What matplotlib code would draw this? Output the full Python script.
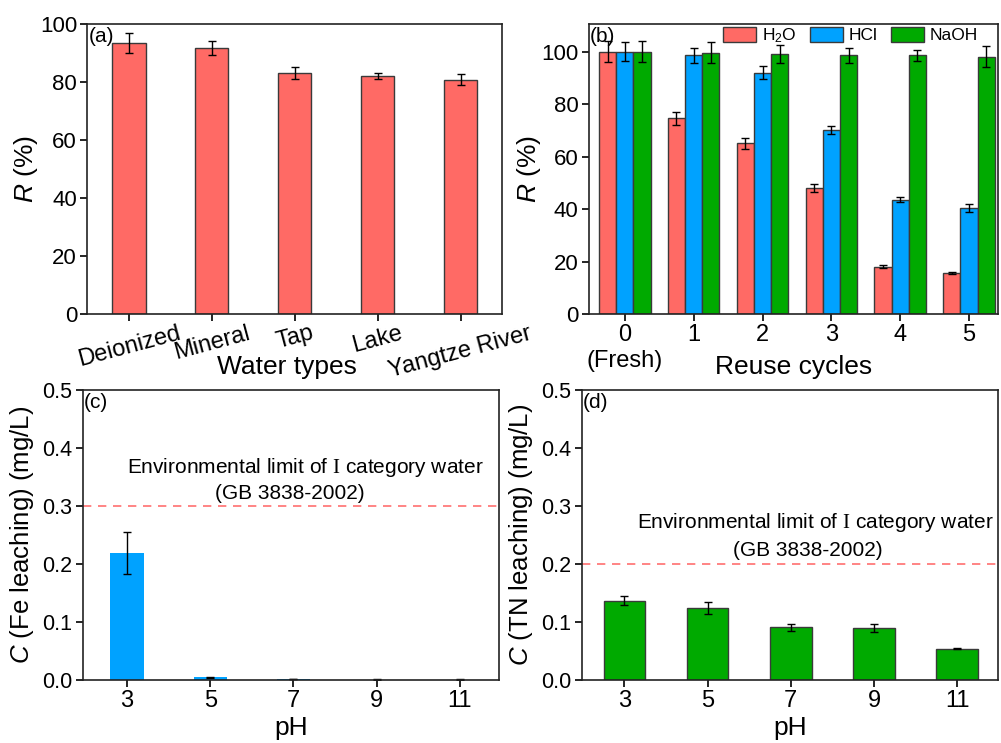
import numpy as np
import matplotlib
matplotlib.use("Agg")
import matplotlib.pyplot as plt

plt.rcParams['font.family'] = ['Liberation Sans', 'DejaVu Sans']
plt.rcParams['mathtext.fontset'] = 'custom'
plt.rcParams['mathtext.rm'] = 'Liberation Serif'
plt.rcParams['mathtext.it'] = 'Liberation Sans:italic'
plt.rcParams['mathtext.sf'] = 'Liberation Sans'

# (a) water types
water_types = ["Deionized", "Mineral", "Tap", "Lake", "Yangtze River"]
water_R = [93.5, 91.7, 83.0, 82.0, 80.8]
water_err = [3.5, 2.5, 2.0, 1.0, 2.0]

# (b) reuse cycles
cycle_labels = ["0\n(Fresh)", "1", "2", "3", "4", "5"]
h2o_R = [100.0, 74.5, 65.0, 48.0, 18.0, 15.5]
h2o_err = [4.0, 2.5, 2.0, 1.5, 0.5, 0.4]
hcl_R = [100.0, 98.5, 92.0, 70.0, 43.5, 40.5]
hcl_err = [3.5, 3.0, 2.5, 1.5, 1.0, 1.5]
naoh_R = [100.0, 99.5, 99.0, 98.5, 98.5, 98.0]
naoh_err = [4.0, 4.0, 3.5, 3.0, 2.0, 4.0]

# (c), (d) leaching vs pH
ph_labels = ["3", "5", "7", "9", "11"]
fe_leach = [0.219, 0.005, 0.002, 0.0007, 0.0007]
fe_err = [0.037, 0.001, 0.0005, 0.0003, 0.0003]
tn_leach = [0.137, 0.124, 0.091, 0.089, 0.054]
tn_err = [0.007, 0.011, 0.006, 0.007, 0.001]
fe_limit = 0.3
tn_limit = 0.2

red = '#FF6A65'
blue = '#00A2FF'
green = '#00AA00'
edge = '#3a3a3a'
ek = dict(ecolor='black', elinewidth=1, capsize=3, capthick=1)

fig = plt.figure(figsize=(10.01, 7.43), dpi=100)
ax_a = fig.add_axes([0.0874, 0.5774, 0.4141, 0.3903])
ax_b = fig.add_axes([0.5884, 0.5774, 0.4086, 0.3903])
ax_c = fig.add_axes([0.0829, 0.0848, 0.4156, 0.3903])
ax_d = fig.add_axes([0.5814, 0.0848, 0.4156, 0.3903])


def style(ax):
    for s in ax.spines.values():
        s.set_color('#222222')
        s.set_linewidth(1.2)
    ax.tick_params(direction='out', length=5, width=1.2, labelsize=16,
                   top=False, right=False, pad=2.5)


# (a)
xa = np.arange(len(water_types))
ax_a.bar(xa, water_R, width=0.4, color=red, edgecolor=edge, linewidth=1,
         yerr=water_err, error_kw=ek)
ax_a.set_xlim(-0.5, 4.5)
ax_a.set_ylim(0, 100)
ax_a.set_yticks([0, 20, 40, 60, 80, 100])
ax_a.set_xticks(xa)
ax_a.set_xticklabels(water_types, rotation=15, ha='center')
style(ax_a)
ax_a.tick_params(axis='x', labelsize=17, pad=1)
ax_a.set_ylabel(r'$\mathit{R}$ (%)', fontsize=19)
ax_a.yaxis.set_label_coords(-0.115, 0.5)
ax_a.set_xlabel('Water types', fontsize=19)
ax_a.xaxis.set_label_coords(0.48, -0.14)
ax_a.text(0.003, 0.99, '(a)', transform=ax_a.transAxes, fontsize=15, va='top')

# (b)
xb = np.arange(len(cycle_labels))
w = 0.25
ax_b.bar(xb - w, h2o_R, width=w, color=red, edgecolor=edge, linewidth=1,
         yerr=h2o_err, error_kw=ek, label=r'H$_{\mathsf{2}}$O')
ax_b.bar(xb, hcl_R, width=w, color=blue, edgecolor=edge, linewidth=1,
         yerr=hcl_err, error_kw=ek, label='HCl')
ax_b.bar(xb + w, naoh_R, width=w, color=green, edgecolor=edge, linewidth=1,
         yerr=naoh_err, error_kw=ek, label='NaOH')
ax_b.set_xlim(-0.52, 5.42)
ax_b.set_ylim(0, 110.5)
ax_b.set_yticks([0, 20, 40, 60, 80, 100])
ax_b.set_xticks(xb)
ax_b.set_xticklabels(cycle_labels)
style(ax_b)
ax_b.tick_params(axis='x', labelsize=17)
ax_b.set_ylabel(r'$\mathit{R}$ (%)', fontsize=19)
ax_b.yaxis.set_label_coords(-0.112, 0.5)
ax_b.set_xlabel('Reuse cycles', fontsize=19)
ax_b.xaxis.set_label_coords(0.5, -0.14)
ax_b.text(0.003, 0.99, '(b)', transform=ax_b.transAxes, fontsize=15, va='top')
ax_b.legend(loc='upper right', ncol=3, frameon=False, fontsize=12.5,
            handlelength=1.9, handleheight=0.95, columnspacing=0.75,
            handletextpad=0.35, borderaxespad=0.0,
            bbox_to_anchor=(0.968, 1.017))

# (c)
xc = np.arange(len(ph_labels))
ax_c.bar(xc, fe_leach, width=0.4, color=blue, edgecolor='none',
         yerr=fe_err, error_kw=ek)
ax_c.axhline(fe_limit, color='#FF7070', linestyle=(0, (5, 4)), linewidth=1.2)
ax_c.set_xlim(-0.53, 4.47)
ax_c.set_ylim(0, 0.5)
ax_c.set_yticks([0.0, 0.1, 0.2, 0.3, 0.4, 0.5])
ax_c.set_xticks(xc)
ax_c.set_xticklabels(ph_labels)
style(ax_c)
ax_c.tick_params(axis='y', labelsize=15.5)
ax_c.tick_params(axis='x', labelsize=17)
ax_c.set_ylabel(r'$\mathit{C}$ (Fe leaching) (mg/L)', fontsize=18.5)
ax_c.yaxis.set_label_coords(-0.113, 0.5)
ax_c.set_xlabel('pH', fontsize=19)
ax_c.xaxis.set_label_coords(0.5, -0.125)
ax_c.text(0.003, 0.99, '(c)', transform=ax_c.transAxes, fontsize=15, va='top')
ax_c.text(2.14, 0.366, r'Environmental limit of $\mathrm{I}$ category water',
          fontsize=15, ha='center', va='center')
ax_c.text(1.96, 0.321, '(GB 3838-2002)', fontsize=15, ha='center', va='center')

# (d)
xd = np.arange(len(ph_labels))
ax_d.bar(xd, tn_leach, width=0.5, color=green, edgecolor=edge, linewidth=1,
         yerr=tn_err, error_kw=ek)
ax_d.axhline(tn_limit, color='#FF7070', linestyle=(0, (5, 4)), linewidth=1.2)
ax_d.set_xlim(-0.51, 4.49)
ax_d.set_ylim(0, 0.5)
ax_d.set_yticks([0.0, 0.1, 0.2, 0.3, 0.4, 0.5])
ax_d.set_xticks(xd)
ax_d.set_xticklabels(ph_labels)
style(ax_d)
ax_d.tick_params(axis='y', labelsize=15.5)
ax_d.tick_params(axis='x', labelsize=17)
ax_d.set_ylabel(r'$\mathit{C}$ (TN leaching) (mg/L)', fontsize=18.5)
ax_d.yaxis.set_label_coords(-0.113, 0.5)
ax_d.set_xlabel('pH', fontsize=19)
ax_d.xaxis.set_label_coords(0.5, -0.125)
ax_d.text(0.003, 0.99, '(d)', transform=ax_d.transAxes, fontsize=15, va='top')
ax_d.text(2.3, 0.272, r'Environmental limit of $\mathrm{I}$ category water',
          fontsize=15, ha='center', va='center')
ax_d.text(2.2, 0.224, '(GB 3838-2002)', fontsize=15, ha='center', va='center')

fig.savefig('out.png', dpi=100)
